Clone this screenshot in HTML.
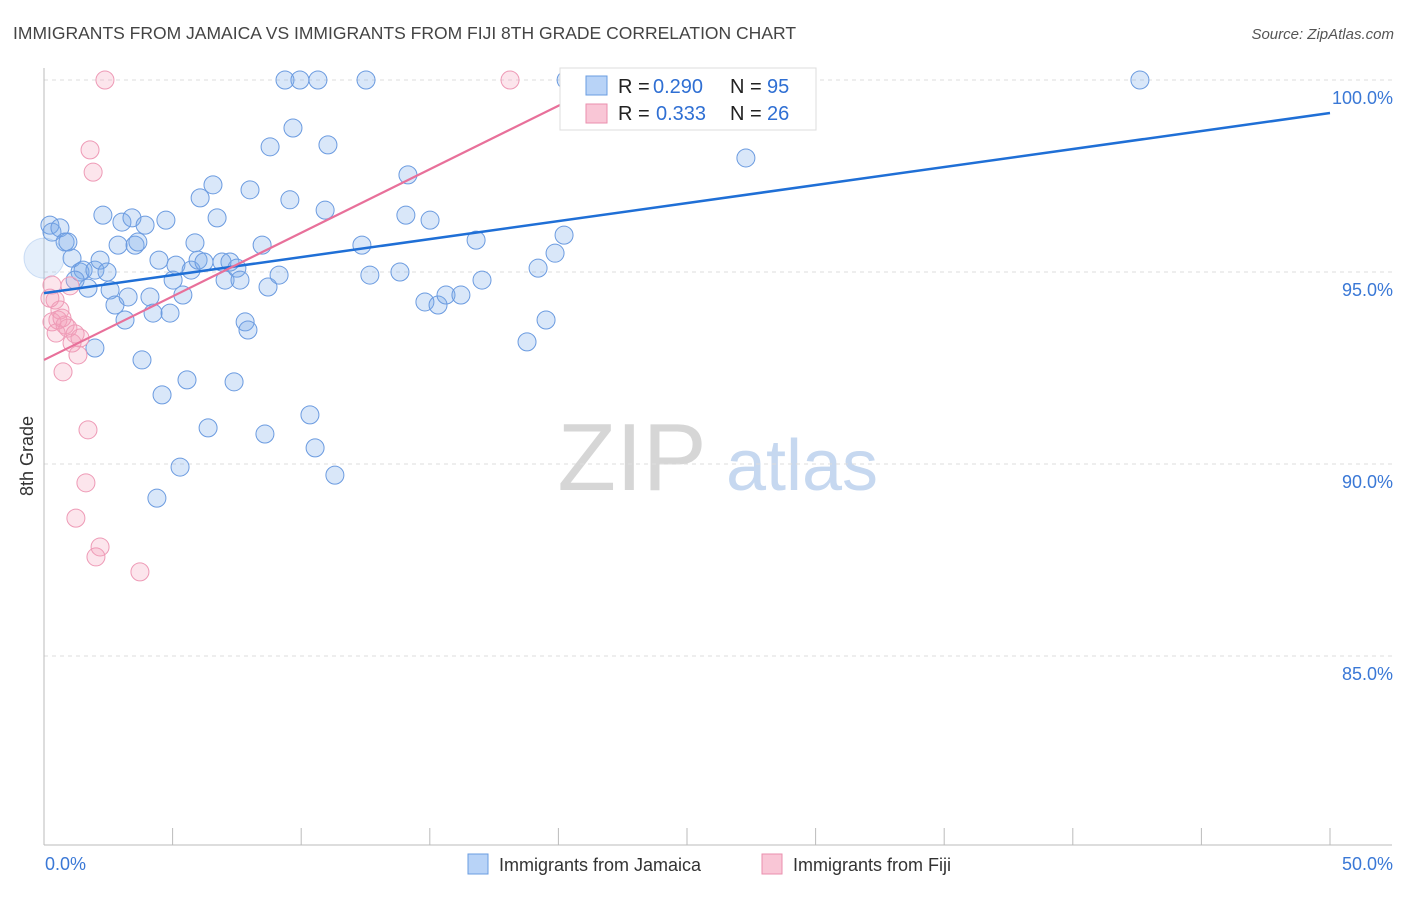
<!DOCTYPE html>
<html><head><meta charset="utf-8"><style>
body{margin:0;background:#fff;font-family:"Liberation Sans",sans-serif}
svg text{font-family:"Liberation Sans",sans-serif}
</style></head><body>
<svg id="chart" width="1406" height="892" xmlns="http://www.w3.org/2000/svg">
<text x="13" y="39" font-size="17.5" fill="#444">IMMIGRANTS FROM JAMAICA VS IMMIGRANTS FROM FIJI 8TH GRADE CORRELATION CHART</text>
<text x="1394" y="39" font-size="15" fill="#555" text-anchor="end" font-style="italic">Source: ZipAtlas.com</text>
<g>
<text x="632" y="490" font-size="96" fill="#d6d6d6" font-family="Liberation Serif" text-anchor="middle">ZIP</text>
<text x="802" y="490" font-size="72" fill="#c6d8f0" text-anchor="middle">atlas</text>
</g>
<g id="grid"></g>
<g id="axes"></g>
<g id="pts"></g>
<g id="lines"></g>
<text transform="translate(33,456) rotate(-90)" font-size="18" fill="#333" text-anchor="middle">8th Grade</text>
<g>
<rect x="560" y="68" width="256" height="62" fill="#fff" stroke="#ddd"/>
<rect x="586" y="76" width="21" height="19" fill="#b8d3f7" stroke="#6a9de0"/>
<rect x="586" y="104" width="21" height="19" fill="#f9c6d6" stroke="#ea8fae"/>
<text x="618" y="93" font-size="20" fill="#222">R =</text>
<text x="653" y="93" font-size="20" fill="#2f6fd3">0.290</text>
<text x="730" y="93" font-size="20" fill="#222">N =</text>
<text x="767" y="93" font-size="20" fill="#2f6fd3">95</text>
<text x="618" y="120" font-size="20" fill="#222">R =</text>
<text x="656" y="120" font-size="20" fill="#2f6fd3">0.333</text>
<text x="730" y="120" font-size="20" fill="#222">N =</text>
<text x="767" y="120" font-size="20" fill="#2f6fd3">26</text>
</g>
<g>
<rect x="468" y="854" width="20" height="20" fill="#b8d3f7" stroke="#6a9de0"/>
<text x="499" y="871" font-size="18" fill="#333">Immigrants from Jamaica</text>
<rect x="762" y="854" width="20" height="20" fill="#f9c6d6" stroke="#ea8fae"/>
<text x="793" y="871" font-size="18" fill="#333">Immigrants from Fiji</text>
</g>
</svg>
<script>
const yTicks=[100,95,90,85];
const yTickLabels=["100.0%","95.0%","90.0%","85.0%"];
const xTickLabels=["0.0%","50.0%"];
const jamX=[0.23,0.31,0.62,0.82,0.93,1.09,1.40,1.52,1.71,1.21,1.98,2.18,2.45,1.98,2.29,2.57,2.76,2.88,3.03,3.15,3.27,3.42,3.54,3.65,3.81,3.93,4.12,4.24,4.47,4.59,4.74,4.90,5.02,5.13,5.29,5.40,5.56,5.72,5.87,5.99,6.07,6.22,6.38,6.57,6.73,6.92,7.04,7.23,7.39,7.50,7.62,7.82,7.93,8.01,8.48,8.59,8.71,8.79,9.14,9.37,9.56,9.68,9.95,10.34,10.54,10.65,10.93,11.04,11.31,12.36,12.52,12.67,13.84,14.07,14.15,14.81,15.01,15.32,15.63,16.21,16.80,17.03,18.78,19.21,19.52,19.87,20.22,20.30,25.74,27.29,42.61,4.39,0];
const jamY=[96.22,96.04,96.15,95.78,95.78,95.36,95.00,95.05,94.58,94.79,95.05,95.31,95.00,93.02,96.48,94.53,94.14,95.70,96.30,93.75,94.35,96.41,95.70,95.78,92.71,96.22,94.35,93.93,95.31,91.80,96.35,93.93,94.79,95.18,89.92,94.40,92.19,95.05,95.76,95.31,96.93,95.26,90.94,97.27,96.41,95.26,94.79,95.26,92.14,95.10,94.79,93.70,93.49,97.14,95.70,90.78,94.61,98.26,94.92,100,96.88,98.75,100,91.28,90.42,100,96.61,98.31,89.71,95.70,100,94.92,95.00,96.48,97.53,94.22,96.35,94.14,94.40,94.40,95.83,94.79,93.18,95.10,93.75,95.49,95.96,100,100,97.97,100,89.11,95.36];
const fijiX=[2.37,18.12,1.79,1.91,0.31,0.43,0.62,0.54,0.31,0.82,0.93,0.47,1.21,1.40,1.09,1.32,0.74,1.01,1.71,1.63,1.24,2.18,2.02,3.73,0.23,0.70];
const fijiY=[100,100,98.18,97.60,94.66,94.27,94.01,93.75,93.70,93.62,93.54,93.41,93.39,93.28,93.15,92.84,92.40,94.64,90.89,89.51,88.59,87.84,87.58,87.19,94.32,93.80];
const jamLine=[94.45,99.14];
const fijiLine=[92.71,0.331];
const fijiLineEnd=20.07;

const NS="http://www.w3.org/2000/svg";
const X=v=>44+v/50*1286;
const Y=v=>80+(100-v)*38.4;
function mk(tag,parent,attrs){const e=document.createElementNS(NS,tag);for(const k in attrs)e.setAttribute(k,attrs[k]);document.getElementById(parent).appendChild(e);return e;}
yTicks.forEach((t,i)=>{
 const l=mk('line','grid',{x1:44,x2:1392,y1:Y(t),y2:Y(t),stroke:'#ddd','stroke-dasharray':'4,4'});
 
 
 const tx=mk('text','grid',{x:1393,y:Y(t)+24,'font-size':18,fill:'#3a78d6','text-anchor':'end'});
 tx.textContent=yTickLabels[i];
 
 
});
const ax=mk('line','axes',{x1:44,x2:44,y1:68,y2:845,stroke:'#bbb'});


const bx=mk('line','axes',{x1:44,x2:1392,y1:845,y2:845,stroke:'#bbb'});


for(let i=0;i<=10;i++){
 const t=mk('line','axes',{x1:X(i*5),x2:X(i*5),y1:828,y2:845,stroke:'#bbb'});
 
 
}
[0,50].forEach((v,i)=>{
 const tx=mk('text','axes',{x:i?1393:45,y:870,'font-size':18,fill:'#3a78d6','text-anchor':i?'end':'start'});
 tx.textContent=xTickLabels[i];
 
 
});
jamX.forEach((x,i)=>{
 const big=i===jamX.length-1;
 const c=mk('circle','pts',{cx:X(x),cy:Y(jamY[i]),r:big?20:9,fill:big?'rgba(150,190,240,0.25)':'rgba(120,170,235,0.28)',stroke:big?'rgba(110,160,225,0.3)':'#6b9be0','stroke-width':1});
 
 
});
fijiX.forEach((x,i)=>{
 const c=mk('circle','pts',{cx:X(x),cy:Y(fijiY[i]),r:9,fill:'rgba(245,160,188,0.28)',stroke:'#ee9ab6','stroke-width':1});
 
 
});
const jl=mk('line','lines',{x1:X(0),y1:Y(jamLine[0]),x2:X(50),y2:Y(jamLine[1]),stroke:'#1f6fd6','stroke-width':2.5});


const fl=mk('line','lines',{x1:X(0),y1:Y(fijiLine[0]),x2:X(fijiLineEnd),y2:Y(fijiLine[0]+fijiLine[1]*fijiLineEnd),stroke:'#e8709a','stroke-width':2.2});


</script>
</body></html>
